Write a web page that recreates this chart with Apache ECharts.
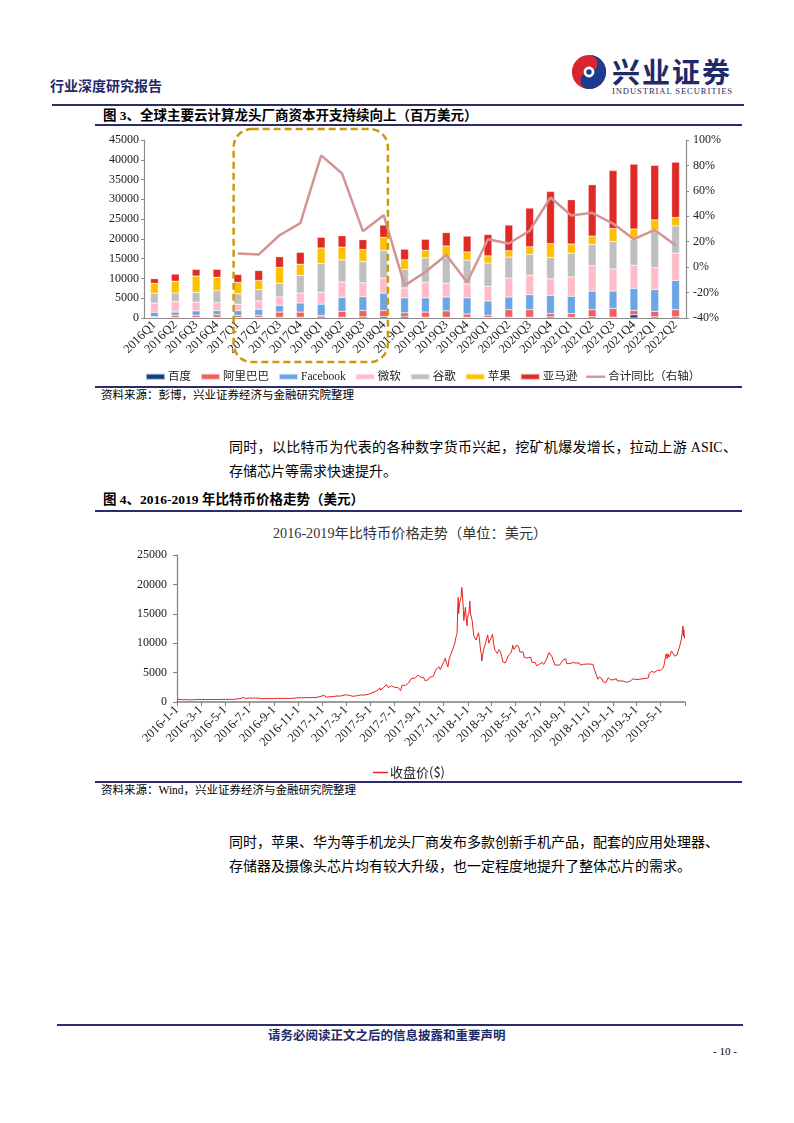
<!DOCTYPE html>
<html><head><meta charset="utf-8">
<script src="https://cdn.jsdelivr.net/npm/echarts@6/dist/echarts.min.js"></script>
<style>
body{margin:0;background:#fff;}
#page{position:relative;width:794px;height:1123px;overflow:hidden;background:#fff;}
.t{position:absolute;white-space:nowrap;color:#000;line-height:1;font-family:'Liberation Serif','Noto Sans CJK SC',serif;}
.b{font-weight:bold;}
.hl{position:absolute;background:#2b2d6b;}
.just{text-align:justify;text-align-last:justify;}
</style></head><body><div id="page">
<div class="t b" style="left:50px;top:78px;font-size:14px;color:#1f2a68;font-family:'Noto Sans CJK SC';">行业深度研究报告</div>
<svg style="position:absolute;left:571px;top:54px" width="36" height="36" viewBox="0 0 40 40">
 <circle cx="20" cy="20" r="19" fill="#d9262c"/>
 <path d="M20 1 A19 19 0 0 1 20 39 A9.5 9.5 0 0 1 20 20 A9.5 9.5 0 0 0 20 1 Z" fill="#1d3b8f"/>
 <circle cx="20" cy="20" r="6" fill="#fff"/>
 <circle cx="20" cy="20" r="3" fill="#1d3b8f"/>
</svg>
<div class="t b" style="left:612px;top:57px;font-size:28px;letter-spacing:2px;color:#1f2a68;font-family:'Noto Sans CJK SC';">兴业证券</div>
<div class="t" style="left:612px;top:87px;font-size:8.6px;letter-spacing:0.9px;color:#1f2a68;">INDUSTRIAL SECURITIES</div>
<div class="hl" style="left:52px;top:104px;width:692px;height:2px;"></div>
<div class="t b" style="left:103px;top:109px;font-size:13.5px;font-family:'Liberation Serif','Noto Sans CJK SC';">图 3、全球主要云计算龙头厂商资本开支持续向上（百万美元）</div>
<div class="hl" style="left:95px;top:124px;width:647px;height:2px;"></div>
<div id="c1" style="position:absolute;left:0;top:126px;width:794px;height:260px;"></div>
<div class="hl" style="left:95px;top:386px;width:647px;height:1.5px;"></div>
<div class="t" style="left:101px;top:390px;font-size:11.5px;">资料来源：彭博，兴业证券经济与金融研究院整理</div>
<div class="t just" style="left:229px;top:441px;width:508px;font-size:14px;">同时，以比特币为代表的各种数字货币兴起，挖矿机爆发增长，拉动上游 ASIC、</div>
<div class="t" style="left:229px;top:465px;font-size:14px;">存储芯片等需求快速提升。</div>
<div class="t b" style="left:103px;top:493px;font-size:13.5px;">图 4、2016-2019 年比特币价格走势（美元）</div>
<div class="hl" style="left:95px;top:510px;width:647px;height:2px;"></div>
<div class="t" style="left:273px;top:526px;font-size:14.2px;color:#333;">2016-2019年比特币价格走势（单位：美元）</div>
<div id="c2" style="position:absolute;left:0;top:515px;width:794px;height:265px;"></div>
<div class="hl" style="left:95px;top:781px;width:647px;height:1.5px;"></div>
<div class="t" style="left:101px;top:785px;font-size:11.5px;">资料来源：Wind，兴业证券经济与金融研究院整理</div>
<div class="t just" style="left:229px;top:836px;width:484px;font-size:14px;">同时，苹果、华为等手机龙头厂商发布多款创新手机产品，配套的应用处理器、</div>
<div class="t" style="left:229px;top:860px;font-size:14px;">存储器及摄像头芯片均有较大升级，也一定程度地提升了整体芯片的需求。</div>
<div class="hl" style="left:57px;top:1024px;width:686px;height:2px;"></div>
<div class="t b" style="left:268px;top:1029px;font-size:12.5px;color:#1f2a68;font-family:'Noto Sans CJK SC';">请务必阅读正文之后的信息披露和重要声明</div>
<div class="t" style="left:713px;top:1046px;font-size:11px;">- 10 -</div>
</div>
<script>
// ---------- Chart 1 data (millions USD) ----------
const quarters = ['2016Q1','2016Q2','2016Q3','2016Q4','2017Q1','2017Q2','2017Q3','2017Q4','2018Q1','2018Q2','2018Q3','2018Q4','2019Q1','2019Q2','2019Q3','2019Q4','2020Q1','2020Q2','2020Q3','2020Q4','2021Q1','2021Q2','2021Q3','2021Q4','2022Q1','2022Q2'];
const baidu     = [150,200,150,200,150,150,200,200,300,200,300,400,400,200,200,200,150,200,200,300,200,300,200,800,300,300];
const alibaba   = [200,500,550,650,550,550,1300,1300,400,1500,1600,1500,900,1300,1600,800,550,1900,1900,800,900,1800,2200,1100,1400,1800];
const facebook  = [1100,800,1100,1050,1200,1500,1700,2300,2800,3500,3500,4400,3800,3600,3500,4100,3600,3200,3800,4600,4400,4700,4400,5600,5500,7400];
const microsoft = [2300,2700,2200,2000,1600,2100,2100,2500,3000,3900,3500,3800,2500,3900,3500,3500,3700,4800,4900,4200,4900,6400,5600,5800,5500,6900];
const google    = [2500,2100,2500,3000,2600,2900,3500,4500,7300,5600,5400,7000,4700,6200,6400,6000,5900,5300,5300,5400,6000,5400,6900,6500,9500,6900];
const apple     = [2500,3000,4100,3400,2900,2300,4000,2800,3900,3200,3000,3300,2400,1900,3000,2100,1800,1600,1900,3500,2300,2100,3300,2700,2600,2100];
const amazon    = [1200,1800,1700,2000,2000,2500,2700,3000,2700,2900,2500,3100,2700,2800,3400,4000,5400,6500,9800,13200,11200,13000,14700,16400,13800,14000];
const yoyTotal  = [null,null,null,null,10.7,9.9,25.1,34.6,87.9,73.7,28.3,40.9,-14.5,-3.8,9.6,-11.9,22.0,18.6,28.6,54.8,40.6,42.7,34.3,22.0,29.3,17.3];
const barNames  = ['百度','阿里巴巴','Facebook','微软','谷歌','苹果','亚马逊'];
const lineName  = '合计同比（右轴）';

// ---------- Chart 2 data (BTC close, USD) ----------
const btcPoints = [
['2016-01-01',434],['2016-01-05',433],['2016-01-09',449],['2016-01-13',432],['2016-01-15',375],['2016-01-19',380],['2016-01-23',402],['2016-01-27',395],['2016-01-31',369],
['2016-02-04',390],['2016-02-08',373],['2016-02-12',382],['2016-02-16',406],['2016-02-20',438],['2016-02-24',423],['2016-02-28',433],
['2016-03-03',420],['2016-03-08',412],['2016-03-13',413],['2016-03-18',408],['2016-03-23',418],['2016-03-28',424],
['2016-04-02',420],['2016-04-07',421],['2016-04-12',424],['2016-04-17',427],['2016-04-22',445],['2016-04-27',446],
['2016-05-02',444],['2016-05-07',458],['2016-05-12',452],['2016-05-17',454],['2016-05-22',440],['2016-05-27',471],['2016-05-31',530],
['2016-06-04',574],['2016-06-08',580],['2016-06-12',672],['2016-06-16',766],['2016-06-19',760],['2016-06-22',592],['2016-06-26',628],['2016-06-30',673],
['2016-07-04',658],['2016-07-08',666],['2016-07-12',672],['2016-07-16',664],['2016-07-20',665],['2016-07-24',660],['2016-07-28',655],
['2016-08-02',547],['2016-08-06',587],['2016-08-10',591],['2016-08-15',567],['2016-08-20',581],['2016-08-25',577],['2016-08-30',576],
['2016-09-04',610],['2016-09-09',623],['2016-09-14',608],['2016-09-19',610],['2016-09-24',602],['2016-09-29',605],
['2016-10-04',610],['2016-10-09',617],['2016-10-14',638],['2016-10-19',630],['2016-10-24',653],['2016-10-29',714],
['2016-11-03',687],['2016-11-08',711],['2016-11-13',703],['2016-11-18',746],['2016-11-23',740],['2016-11-28',734],
['2016-12-03',765],['2016-12-08',770],['2016-12-13',780],['2016-12-18',790],['2016-12-23',921],['2016-12-28',975],['2016-12-31',963],
['2017-01-04',1130],['2017-01-08',908],['2017-01-12',812],['2017-01-16',830],['2017-01-20',899],['2017-01-24',891],['2017-01-28',921],
['2017-02-01',989],['2017-02-06',1024],['2017-02-10',998],['2017-02-15',1007],['2017-02-20',1079],['2017-02-24',1172],
['2017-03-02',1222],['2017-03-06',1277],['2017-03-10',1112],['2017-03-14',1240],['2017-03-18',972],['2017-03-23',1039],['2017-03-27',1044],
['2017-04-01',1097],['2017-04-06',1196],['2017-04-11',1208],['2017-04-16',1186],['2017-04-21',1250],['2017-04-26',1308],
['2017-05-01',1454],['2017-05-05',1553],['2017-05-09',1722],['2017-05-13',1774],['2017-05-17',1810],['2017-05-21',2052],['2017-05-25',2400],['2017-05-27',2035],['2017-05-31',2286],
['2017-06-04',2516],['2017-06-08',2806],['2017-06-11',2958],['2017-06-15',2448],['2017-06-19',2624],['2017-06-23',2750],['2017-06-27',2578],
['2017-07-01',2478],['2017-07-05',2601],['2017-07-09',2506],['2017-07-12',2332],['2017-07-16',1929],['2017-07-20',2868],['2017-07-24',2755],['2017-07-28',2809],
['2017-08-01',2718],['2017-08-05',3225],['2017-08-09',3371],['2017-08-13',4063],['2017-08-17',4332],['2017-08-21',4025],['2017-08-25',4352],['2017-08-29',4579],
['2017-09-01',4892],['2017-09-04',4229],['2017-09-08',4226],['2017-09-12',4168],['2017-09-15',3637],['2017-09-19',3907],['2017-09-23',3774],['2017-09-27',4211],
['2017-10-01',4404],['2017-10-05',4317],['2017-10-09',4772],['2017-10-12',5444],['2017-10-16',5754],['2017-10-20',6011],['2017-10-24',5526],['2017-10-28',5736],
['2017-11-01',6767],['2017-11-05',7407],['2017-11-08',7459],['2017-11-12',5950],['2017-11-15',7315],['2017-11-19',8042],['2017-11-23',8071],['2017-11-26',9330],['2017-11-29',9888],
['2017-12-02',10975],['2017-12-05',11617],['2017-12-07',16501],['2017-12-08',17800],['2017-12-09',15059],['2017-12-11',16732],['2017-12-13',16408],['2017-12-15',17760],['2017-12-17',19498],['2017-12-19',17776],['2017-12-21',15561],['2017-12-22',13857],['2017-12-24',13926],['2017-12-26',16099],['2017-12-28',14380],['2017-12-30',12952],['2017-12-31',14157],
['2018-01-02',14754],['2018-01-04',15156],['2018-01-06',17174],['2018-01-08',14976],['2018-01-10',14973],['2018-01-12',13842],['2018-01-14',13772],['2018-01-16',11282],['2018-01-17',11162],['2018-01-19',11474],['2018-01-22',10545],['2018-01-25',11214],['2018-01-28',11787],['2018-01-31',10221],
['2018-02-02',8830],['2018-02-04',8181],['2018-02-05',6955],['2018-02-07',7700],['2018-02-09',8667],['2018-02-12',8926],['2018-02-15',10166],['2018-02-18',10383],['2018-02-20',11403],['2018-02-23',10005],['2018-02-26',10325],
['2018-03-01',10951],['2018-03-04',11512],['2018-03-07',9910],['2018-03-10',8866],['2018-03-13',9143],['2018-03-16',8260],['2018-03-18',8223],['2018-03-21',8900],['2018-03-24',8547],['2018-03-27',7796],['2018-03-30',6853],
['2018-04-02',7045],['2018-04-05',6636],['2018-04-08',7023],['2018-04-11',6951],['2018-04-13',7927],['2018-04-16',8055],['2018-04-19',8294],['2018-04-22',8925],['2018-04-24',9651],['2018-04-27',8943],['2018-04-30',9241],
['2018-05-04',9700],['2018-05-06',9650],['2018-05-09',9338],['2018-05-12',8504],['2018-05-16',8340],['2018-05-20',8508],['2018-05-23',7558],['2018-05-27',7334],['2018-05-31',7495],
['2018-06-04',7501],['2018-06-08',7625],['2018-06-11',6760],['2018-06-15',6472],['2018-06-19',6743],['2018-06-23',6165],['2018-06-26',6256],['2018-06-29',6380],
['2018-07-03',6599],['2018-07-07',6751],['2018-07-11',6385],['2018-07-15',6353],['2018-07-18',7315],['2018-07-21',7397],['2018-07-24',8397],['2018-07-27',8228],['2018-07-31',7780],
['2018-08-04',7034],['2018-08-08',6287],['2018-08-11',6315],['2018-08-14',6275],['2018-08-17',6580],['2018-08-20',6290],['2018-08-24',6690],['2018-08-28',7100],
['2018-09-01',7193],['2018-09-04',7361],['2018-09-07',6520],['2018-09-11',6300],['2018-09-15',6535],['2018-09-19',6348],['2018-09-22',6707],['2018-09-26',6489],['2018-09-30',6626],
['2018-10-04',6550],['2018-10-08',6651],['2018-10-11',6275],['2018-10-15',6612],['2018-10-19',6402],['2018-10-23',6436],['2018-10-27',6461],['2018-10-31',6364],
['2018-11-04',6450],['2018-11-08',6450],['2018-11-12',6400],['2018-11-14',6260],['2018-11-15',5575],['2018-11-18',5600],['2018-11-20',4600],['2018-11-22',4330],['2018-11-24',3880],['2018-11-26',4000],['2018-11-28',4280],
['2018-12-01',4210],['2018-12-04',3960],['2018-12-07',3450],['2018-12-10',3450],['2018-12-14',3260],['2018-12-16',3250],['2018-12-18',3550],['2018-12-20',4140],['2018-12-23',3960],['2018-12-26',3780],['2018-12-29',3880],['2018-12-31',3740],
['2019-01-03',3780],['2019-01-06',4020],['2019-01-09',3980],['2019-01-12',3550],['2019-01-15',3580],['2019-01-18',3600],['2019-01-21',3520],['2019-01-24',3580],['2019-01-28',3420],['2019-01-31',3440],
['2019-02-04',3400],['2019-02-07',3390],['2019-02-10',3640],['2019-02-14',3580],['2019-02-18',3880],['2019-02-21',3960],['2019-02-24',3760],['2019-02-27',3820],
['2019-03-03',3790],['2019-03-07',3850],['2019-03-11',3890],['2019-03-15',3940],['2019-03-19',4000],['2019-03-23',3990],['2019-03-27',4050],['2019-03-31',4100],
['2019-04-02',4870],['2019-04-05',5020],['2019-04-08',5200],['2019-04-11',5050],['2019-04-15',5040],['2019-04-19',5300],['2019-04-23',5400],['2019-04-26',5200],['2019-04-30',5350],
['2019-05-03',5650],['2019-05-06',5710],['2019-05-09',6150],['2019-05-11',6900],['2019-05-13',7800],['2019-05-15',8190],['2019-05-17',7360],['2019-05-19',8190],['2019-05-22',7630],['2019-05-25',8000],['2019-05-28',8700],['2019-05-30',8660],
['2019-06-02',8750],['2019-06-05',7800],['2019-06-08',7940],['2019-06-11',7990],['2019-06-14',8700],['2019-06-17',9300],['2019-06-20',9520],['2019-06-22',10700],['2019-06-24',11000],['2019-06-26',12900],['2019-06-27',11200],['2019-06-28',12300],['2019-06-30',10800]
];
const btcTickDates = ['2016-01-01','2016-03-01','2016-05-01','2016-07-01','2016-09-01','2016-11-01','2017-01-01','2017-03-01','2017-05-01','2017-07-01','2017-09-01','2017-11-01','2018-01-01','2018-03-01','2018-05-01','2018-07-01','2018-09-01','2018-11-01','2019-01-01','2019-03-01','2019-05-01'];
const btcAxisEnd = '2019-07-01';
const btcName = '收盘价($)';

const SERIF = "'Liberation Serif','Noto Sans CJK SC',serif";
const colors = ['#123F82','#F0605D','#6CA5E5','#FFBCC8','#BFBFBF','#FFC000','#E02A26'];

// ---------- Chart 1 ----------
const c1 = echarts.init(document.getElementById('c1'), null, {renderer:'canvas'});
const barData = [baidu, alibaba, facebook, microsoft, google, apple, amazon];
const series1 = barNames.map((n,i)=>({
  name:n, type:'bar', stack:'capex', barWidth:'38%', yAxisIndex:0,
  itemStyle:{color:colors[i], borderColor:'rgba(255,255,255,0.6)', borderWidth:0.5},
  data:barData[i]
}));
series1.push({name:lineName, type:'line', yAxisIndex:1, symbol:'none', showSymbol:false,
  lineStyle:{color:'#D49494', width:2.5}, itemStyle:{color:'#D49494'}, data:yoyTotal, z:5});
const axisLineStyle = {show:true, lineStyle:{color:'#8c8c8c', width:1.2}};
c1.setOption({
  animation:false,
  textStyle:{fontFamily:SERIF},
  grid:{left:144, right:108, top:14, bottom:68, outerBoundsMode:'none', containLabel:false},
  legend:{left:140, top:240, itemWidth:19, itemHeight:6, itemGap:9,
    textStyle:{fontSize:11.5, fontFamily:SERIF, color:'#222', padding:[0,0,0,-2]},
    data:barNames.map(n=>({name:n, icon:'rect'})).concat([{name:lineName, icon:'path://M0,0L19,0L19,2.4L0,2.4Z'}])},
  xAxis:{type:'category', data:quarters, axisLine:axisLineStyle, axisTick:{show:false},
    axisLabel:{rotate:45, interval:0, fontSize:12.5, fontFamily:SERIF, color:'#1a1a1a', margin:5}},
  yAxis:[
    {type:'value', min:0, max:45000, interval:5000, position:'left', axisLine:axisLineStyle,
     axisTick:{show:true, length:3, lineStyle:{color:'#8c8c8c'}}, splitLine:{show:false},
     axisLabel:{fontSize:12, fontFamily:SERIF, color:'#1a1a1a', margin:5, formatter:v=>String(v)}},
    {type:'value', min:-40, max:100, interval:20, position:'right', axisLine:axisLineStyle,
     axisTick:{show:true, length:3, lineStyle:{color:'#8c8c8c'}}, splitLine:{show:false},
     axisLabel:{fontSize:12, fontFamily:SERIF, color:'#1a1a1a', margin:7, formatter:v=>v+'%'}}
  ],
  series:series1
});
// highlight box from 2017Q1 to 2018Q4 tied to axis positions
const xa = c1.convertToPixel({xAxisIndex:0}, '2017Q1');
const xb = c1.convertToPixel({xAxisIndex:0}, '2018Q4');
const band = (xb - xa) / 7;
const bx0 = xa - band*0.2, bx1 = xb + band*0.2;
c1.setOption({graphic:[{type:'rect', z:100, silent:true,
  shape:{x:bx0, y:3, width:bx1-bx0, height:233, r:18},
  style:{fill:'none', stroke:'#C9990F', lineWidth:2.5, lineDash:[7,4]}}]});

// ---------- Chart 2 ----------
function ts(s){const p=s.split('-').map(Number);return new Date(p[0],p[1]-1,p[2]).getTime();}
const tickTs = btcTickDates.map(ts);
const c2 = echarts.init(document.getElementById('c2'), null, {renderer:'canvas'});
c2.setOption({
  animation:false,
  textStyle:{fontFamily:SERIF},
  grid:{left:177, right:109, top:40, bottom:78, outerBoundsMode:'none', containLabel:false},
  legend:{left:368, top:246, itemWidth:15, itemGap:4,
    textStyle:{fontSize:13, fontFamily:"'Noto Sans CJK SC',sans-serif", color:'#222', padding:[0,0,0,-3]},
    data:[{name:btcName, icon:'path://M0,0L15,0L15,1.5L0,1.5Z'}]},
  xAxis:{type:'value', min:ts('2016-01-01'), max:ts(btcAxisEnd),
    axisLine:{show:true, lineStyle:{color:'#7f7f7f', width:1.5}},
    axisTick:{show:true, length:4, customValues:tickTs.concat([ts(btcAxisEnd)]), lineStyle:{color:'#7f7f7f'}},
    splitLine:{show:false},
    axisLabel:{rotate:45, fontSize:12.5, fontFamily:SERIF, color:'#1a1a1a', margin:6, customValues:tickTs,
      formatter:function(v){const d=new Date(v);return d.getFullYear()+'-'+(d.getMonth()+1)+'-'+d.getDate();}}},
  yAxis:{type:'value', min:0, max:25000, interval:5000,
    axisLine:{show:true, lineStyle:{color:'#7f7f7f', width:1.2}},
    axisTick:{show:true, length:4, lineStyle:{color:'#7f7f7f'}}, splitLine:{show:false},
    axisLabel:{fontSize:12, fontFamily:SERIF, color:'#1a1a1a', margin:10, formatter:v=>String(v)}},
  series:[{name:btcName, type:'line', symbol:'none', showSymbol:false,
    lineStyle:{color:'#E42121', width:1}, itemStyle:{color:'#E42121'},
    data:btcPoints.map(p=>[ts(p[0]), p[1]])}]
});
</script>
</body></html>
